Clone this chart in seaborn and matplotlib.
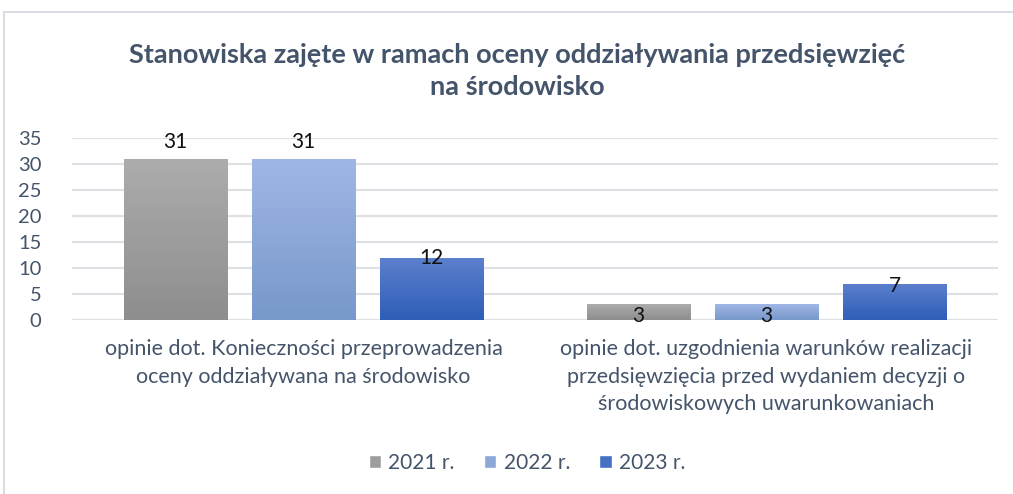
import numpy as np
import pandas as pd
import matplotlib
matplotlib.use("Agg")
import matplotlib.pyplot as plt
from matplotlib.colors import LinearSegmentedColormap
from matplotlib.patches import Rectangle
import seaborn as sns

# data
categories = [
    "opinie dot. Konieczności przeprowadzenia\noceny oddziaływana na środowisko",
    "opinie dot. uzgodnienia warunków realizacji\nprzedsięwzięcia przed wydaniem decyzji o\nśrodowiskowych uwarunkowaniach",
]
years = ["2021 r.", "2022 r.", "2023 r."]
values_2021 = [31, 3]
values_2022 = [31, 3]
values_2023 = [12, 7]

title = "Stanowiska zajęte w ramach oceny oddziaływania przedsięwzięć\nna środowisko"

# styling
grad_top = ["#acacac", "#9fb7e5", "#5c80cd"]
grad_bottom = ["#8e8e8e", "#7898cb", "#2e5eb8"]
mid_colors = ["#9d9d9d", "#8ca8d8", "#4570c3"]
label_offsets = [[12, -8], [12, -8], [-0.5, -2]]
text_col = "#44546a"

df = pd.DataFrame({
    "kategoria": categories * 3,
    "rok": np.repeat(years, len(categories)),
    "wartosc": values_2021 + values_2022 + values_2023,
})

sns.set_theme(style="white")
plt.rcParams["font.family"] = ["Lato", "DejaVu Sans"]

fig = plt.figure(figsize=(10.13, 4.94), dpi=100)
ax = fig.add_axes([72 / 1013, 1 - 320 / 494, 926 / 1013, 182 / 494])

sns.barplot(data=df, x="kategoria", y="wartosc", hue="rok", palette=mid_colors,
            width=0.83, gap=0.19, ax=ax, legend=False, saturation=1)

ax.set_ylim(0, 35)
ax.set_xlim(-0.5, 1.5)
ax.set_yticks(range(0, 36, 5))
ax.yaxis.grid(True, color="#dde1e6", lw=1.6)
ax.set_axisbelow(True)
sns.despine(ax=ax, left=True, bottom=True)
ax.tick_params(axis="y", length=0, pad=22, labelsize=14.5, labelcolor=text_col)
ax.tick_params(axis="x", length=0, pad=14, labelsize=15.5, labelcolor=text_col)
for lbl in ax.get_xticklabels():
    lbl.set_linespacing(1.45)
ax.set_xlabel("")
ax.set_ylabel("")

# gradient fills and value labels
for i, cont in enumerate(ax.containers):
    cmap = LinearSegmentedColormap.from_list("g", [grad_bottom[i], grad_top[i]])
    for j, bar in enumerate(cont.patches):
        x0, w, h = bar.get_x(), bar.get_width(), bar.get_height()
        grad = np.linspace(0, 1, 100).reshape(-1, 1)
        im = ax.imshow(grad, cmap=cmap, origin="lower", aspect="auto",
                       extent=[x0, x0 + w, 0, h], zorder=2)
        im.set_clip_path(bar)
        ax.annotate(str(int(h)), (x0 + w / 2, h), xytext=(0, label_offsets[i][j]),
                    textcoords="offset points", ha="center", va="center",
                    fontsize=15, color="#111111", zorder=4)
ax.set_xlim(-0.5, 1.5)
ax.set_ylim(0, 35)

fig.text(517 / 1013, 1 - 71 / 494, title, ha="center", va="center",
         fontsize=19.5, fontweight="bold", color=text_col, linespacing=1.42)

handles = [Rectangle((0, 0), 1, 1, facecolor=c) for c in mid_colors]
fig.legend(handles, years, loc="center", bbox_to_anchor=(527 / 1013, 1 - 463 / 494),
           ncol=3, frameon=False, fontsize=15, labelcolor=text_col,
           handlelength=0.6, handleheight=0.6, handletextpad=0.35, columnspacing=1.4)

fig.add_artist(Rectangle((4 / 1013, -0.1), 1.1, 1 - 12 / 494 + 0.1,
                         transform=fig.transFigure, fill=False,
                         edgecolor="#d9dde3", lw=1.5))

fig.savefig("out.png", dpi=100)
